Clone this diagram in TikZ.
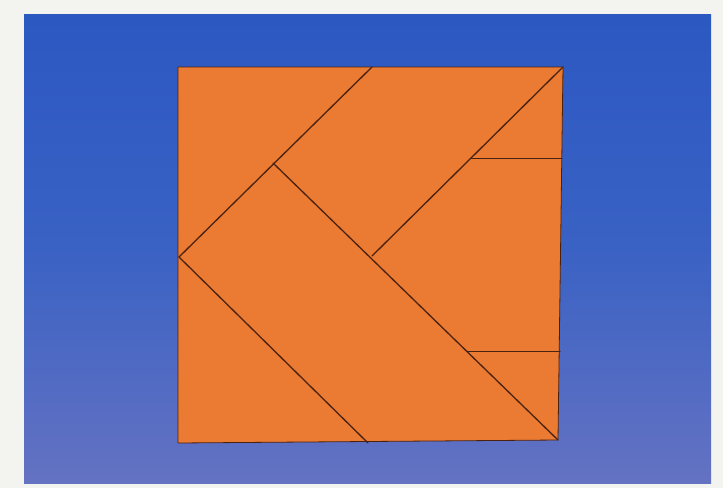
\documentclass[tikz,border=0pt]{standalone}
\usetikzlibrary{calc}
\definecolor{paper}{HTML}{F3F3EF}
\definecolor{bluetop}{HTML}{2C58C2}
\definecolor{bluemid}{HTML}{3A62C4}
\definecolor{bluebot}{HTML}{6472C2}
\definecolor{tan}{HTML}{EB7A32}
\definecolor{cut}{HTML}{4A2210}
\tikzset{cutline/.style={draw=cut,line width=1.3pt,line cap=round}}
\begin{document}
\begin{tikzpicture}[x=1pt,y=-1pt]
\useasboundingbox (0,0) rectangle (723,488);
\fill[paper] (0,0) rectangle (723,488);
\shade[top color=bluetop,bottom color=bluebot,middle color=bluemid] (24,14) rectangle (711,483);
% orange square
\coordinate (TL) at (178,67);
\coordinate (TR) at (563,67);
\coordinate (BR) at (558,440);
\coordinate (BL) at (178,443);
\fill[tan] (TL) -- (TR) -- (BR) -- (BL) -- cycle;
\draw[cut,line width=0.8pt] (TL) -- (TR) -- (BR) -- (BL) -- cycle;
% cut points
\coordinate (T1) at (372,67);
\coordinate (L1) at (179,257);
\coordinate (B1) at (368,443);
\coordinate (J1) at (273,163);
\coordinate (C) at (372,256);
\coordinate (H1) at ($(TR)!0.485!(C)$);
\coordinate (R1) at (562,159);
\coordinate (H2) at ($(J1)!0.68!(BR)$);
\coordinate (R2) at (560,349);
\draw[cutline] (T1) -- (L1) -- (B1);
\draw[cutline] (J1) -- (BR);
\draw[cutline] (TR) -- (C);
\draw[cutline] (H1) -- (H1 -| R1);
\draw[cutline] (H2) -- (H2 -| R2);
\end{tikzpicture}
\end{document}
